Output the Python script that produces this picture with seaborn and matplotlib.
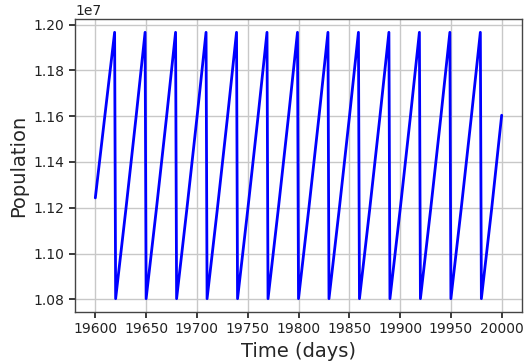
import matplotlib
matplotlib.use("Agg")
import matplotlib.pyplot as plt
import seaborn as sns
import pandas as pd

# Time points (days) and population readings
time_days = [
    19600, 19610, 19619,
    19620, 19630, 19640, 19649,
    19650, 19660, 19670, 19679,
    19680, 19690, 19700, 19709,
    19710, 19720, 19730, 19739,
    19740, 19750, 19760, 19769,
    19770, 19780, 19790, 19799,
    19800, 19810, 19820, 19829,
    19830, 19840, 19850, 19859,
    19860, 19870, 19880, 19889,
    19890, 19900, 19910, 19919,
    19920, 19930, 19940, 19949,
    19950, 19960, 19970, 19979,
    19980, 19990, 20000,
]
population = [
    1.1243e7, 1.1625e7, 1.1966e7,
    1.0803e7, 1.1190e7, 1.1592e7, 1.1966e7,
    1.0803e7, 1.1190e7, 1.1592e7, 1.1966e7,
    1.0803e7, 1.1190e7, 1.1592e7, 1.1966e7,
    1.0803e7, 1.1190e7, 1.1592e7, 1.1966e7,
    1.0803e7, 1.1190e7, 1.1592e7, 1.1966e7,
    1.0803e7, 1.1190e7, 1.1592e7, 1.1966e7,
    1.0803e7, 1.1190e7, 1.1592e7, 1.1966e7,
    1.0803e7, 1.1190e7, 1.1592e7, 1.1966e7,
    1.0803e7, 1.1190e7, 1.1592e7, 1.1966e7,
    1.0803e7, 1.1190e7, 1.1592e7, 1.1966e7,
    1.0803e7, 1.1190e7, 1.1592e7, 1.1966e7,
    1.0803e7, 1.1190e7, 1.1592e7, 1.1966e7,
    1.0803e7, 1.1190e7, 1.1604e7,
]

df = pd.DataFrame({"t": time_days, "pop": population})

sns.set_theme(style="ticks")
plt.rcParams.update({
    "font.family": ["DejaVu Sans"],
    "xtick.labelsize": 10,
    "ytick.labelsize": 10,
    "axes.edgecolor": "#444444",
    "xtick.color": "#222222",
    "ytick.color": "#222222",
    "xtick.major.size": 4,
    "ytick.major.size": 4,
})

fig = plt.figure(figsize=(5.28, 3.64), dpi=100)
ax = fig.add_axes([75 / 528, 1 - 312 / 364, (522 - 75) / 528, (312 - 19) / 364])

sns.lineplot(data=df, x="t", y="pop", ax=ax, color="blue", linewidth=2, sort=False)

ax.grid(True, color="#c8c8c8", linewidth=1)
ax.set_axisbelow(True)
ax.set_xlabel("Time (days)", fontsize=14)
ax.set_ylabel("Population", fontsize=14)
ax.set_xticks([19600, 19650, 19700, 19750, 19800, 19850, 19900, 19950, 20000])
ax.set_yticks([1.08e7, 1.10e7, 1.12e7, 1.14e7, 1.16e7, 1.18e7, 1.20e7])
ax.ticklabel_format(axis="y", style="sci", scilimits=(0, 0), useMathText=False)
for s in ax.spines.values():
    s.set_visible(True)
    s.set_linewidth(1)

fig.savefig("out.png", dpi=100)
